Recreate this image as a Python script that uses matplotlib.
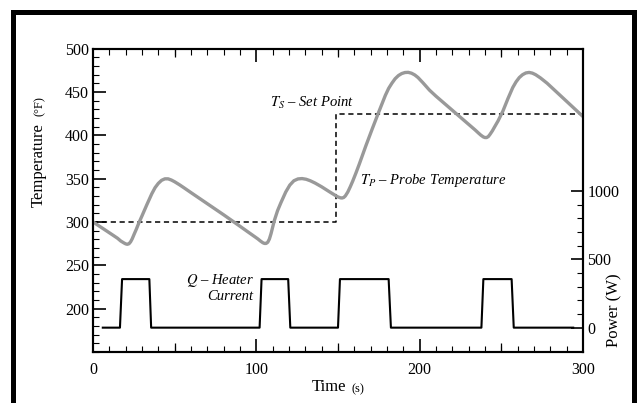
import matplotlib
matplotlib.use('Agg')
from matplotlib import pyplot as plt
from matplotlib.patches import Rectangle
from matplotlib.ticker import MultipleLocator, FixedLocator
import numpy as np

plt.rcParams['font.family'] = ['Liberation Serif', 'DejaVu Serif']
plt.rcParams['mathtext.fontset'] = 'stix'

# probe temperature (s, degF)
probe_t = [0, 4, 8, 12, 15, 17, 19, 20, 21, 22, 23, 24, 25, 26.5, 28, 30, 33, 36,
           38, 40, 42, 44, 46, 48, 50, 53, 56, 60, 65, 70, 75, 80, 85, 90, 95, 99,
           101, 102.5, 104, 105, 106, 107, 108, 109, 110, 111, 113, 115, 118, 120.5,
           123, 125.5, 128, 130.5, 133, 136, 140, 145, 148, 150, 151.5, 152.5,
           153.5, 154.5, 156, 157.5, 159, 161, 163, 167, 171, 175, 179, 181, 183,
           185, 187, 189, 191, 193, 195, 197, 199, 202, 206, 210, 214, 218, 222,
           226, 230, 234, 236, 237.5, 239, 240, 241, 242, 243, 244.5, 246, 248,
           251, 254, 257, 259, 261, 263, 265, 267, 269, 271, 274, 278, 282, 286,
           290, 294, 298, 300]
probe_T = [300, 295, 290, 285, 281.2, 278, 275.7, 274.7, 274.2, 274.8, 277, 280.5,
           285, 291.5, 298.5, 307, 320, 332.5, 339.5, 344.5, 348, 349.7, 349.7,
           348.3, 346.3, 342.8, 339, 333.8, 327.4, 321, 314.6, 308.2, 301.6, 295,
           288.3, 283, 280.3, 278, 276, 275.2, 275.2, 276.6, 280.3, 286.5, 294,
           301.5, 313, 322, 334.5, 342.5, 347.5, 349.6, 350, 349.2, 347.5, 344.8,
           340.5, 334.5, 331, 328.8, 327.8, 327.6, 328.2, 330, 334.5, 340.5, 347,
           356.5, 366.5, 387.5, 407.5, 427, 446, 454, 460, 465.2, 468.8, 471.1,
           472.3, 472.5, 471.5, 469.5, 466.5, 460.5, 452, 445, 438.5, 432, 425.5,
           419, 412.5, 406, 402.5, 400, 398, 397.3, 397.3, 398.4, 400.8, 405, 410,
           416.5, 428, 442, 455, 461.5, 466.5, 469.8, 471.8, 472.4, 471.6, 469.8,
           466, 460, 453, 446, 439, 432, 425, 421.5]

# set point
set_t = [0, 148.5, 148.5, 300]
set_T = [300, 300, 425, 425]

# heater power (s, W)
heat_t = [6, 16.5, 17.8, 34.5, 35.6, 102, 103.2, 119.5, 120.8, 150, 151.2, 181,
          182.4, 237.8, 239, 256.3, 257.6, 294]
heat_P = [0, 0, 355, 355, 0, 0, 355, 355, 0, 0, 355, 355, 0, 0, 355, 355, 0, 0]

W, H = 637, 403
fig = plt.figure(figsize=(W / 100, H / 100), dpi=100)

def px(x0, y0, x1, y1):
    # pixel box (from top-left) -> figure fractions
    return (x0 / W, 1 - y1 / H, (x1 - x0) / W, (y1 - y0) / H)

ax = fig.add_axes(px(93, 48.5, 583, 352))
ax2 = ax.twinx()

ax.plot(probe_t, probe_T, color='#999999', lw=2.4, solid_joinstyle='round',
        solid_capstyle='butt', zorder=3)
ax.plot(set_t, set_T, color='black', lw=1.1, dashes=(3.4, 2.4), zorder=2)
ax2.plot(heat_t, heat_P, color='black', lw=1.5)

ax.set_xlim(0, 300)
ax.set_ylim(150, 500)
ax2.set_ylim(-178, 2041)

ax.set_xticks([0, 100, 200, 300])
ax.xaxis.set_minor_locator(MultipleLocator(10))
ax.set_yticks([200, 250, 300, 350, 400, 450, 500])
ax.yaxis.set_minor_locator(MultipleLocator(10))
ax2.set_yticks([0, 500, 1000])
ax2.yaxis.set_minor_locator(FixedLocator(range(100, 1000, 100)))

ax.tick_params(which='both', direction='in', top=True, right=False, labelsize=11.5)
ax.tick_params(which='major', length=9.5, width=1.2)
ax.tick_params(which='minor', length=4.5, width=0.8)
ax.tick_params(axis='x', pad=7.5)
ax.tick_params(axis='y', pad=3)
ax2.tick_params(which='both', direction='in', labelsize=11.5, pad=3)
ax2.tick_params(which='major', length=9, width=1.2)
ax2.tick_params(which='minor', length=4.2, width=0.8)

for loc in ['bottom', 'top']:
    sec = ax.secondary_xaxis(loc)
    sec.set_xticks([50, 150, 250])
    sec.tick_params(direction='in', length=6.5, width=0.9,
                    labelbottom=False, labeltop=False)
    sec.spines[loc].set_visible(False)

for a in (ax, ax2):
    for s in a.spines.values():
        s.set_linewidth(1.5)

# annotations
ax.text(134, 437, '$T_S$ – Set Point', fontsize=10.5, style='italic',
        ha='center', va='center')
ax.text(208, 348, '$T_P$ – Probe Temperature', fontsize=10.5, style='italic',
        ha='center', va='center')
ax.text(98.4, 232, '$Q$ – Heater', fontsize=10.5, style='italic', ha='right', va='center')
ax.text(98.4, 214.5, 'Current', fontsize=10.5, style='italic', ha='right', va='center')

# axis labels placed by pixel
def ftext(x, y, s, **kw):
    fig.text(x / W, 1 - y / H, s, **kw)

ftext(39, 165.5, 'Temperature', fontsize=12, rotation=90, ha='center', va='center')
ftext(40, 106.5, '(°F)', fontsize=9, rotation=90, ha='center', va='center')
ftext(328.5, 387, 'Time', fontsize=12, ha='center', va='center')
ftext(358, 389, '(s)', fontsize=9, ha='center', va='center')
ftext(614.5, 310, 'Power (W)', fontsize=12, rotation=90, ha='center', va='center')

# black frame round the picture, open at the bottom
for box in [(11, 10, 16, 403), (11, 10, 637, 15), (632, 10, 637, 403)]:
    fig.add_artist(Rectangle(px(*box)[:2], *px(*box)[2:], transform=fig.transFigure,
                             color='black', lw=0))

fig.savefig('out.png', dpi=100)
